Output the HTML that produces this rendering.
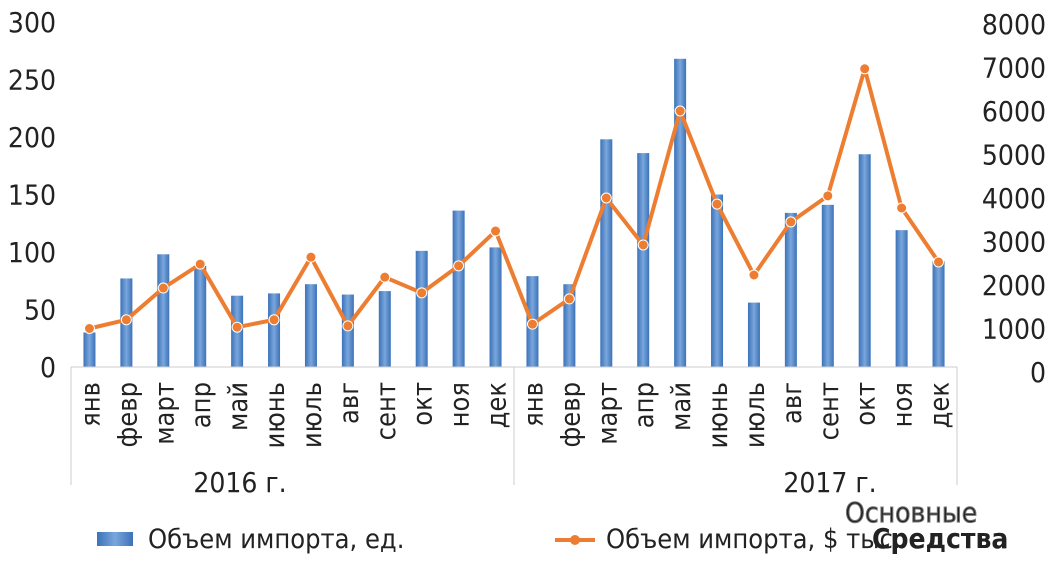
<!DOCTYPE html>
<html><head><meta charset="utf-8"><style>
body{margin:0;background:#fff;width:1050px;height:560px;overflow:hidden}
text{font-family:"DejaVu Sans Condensed","Liberation Sans",sans-serif;fill:#222}
</style></head><body>
<svg id="c" width="1050" height="560"></svg>
<script>
const months=["янв","февр","март","апр","май","июнь","июль","авг","сент","окт","ноя","дек","янв","февр","март","апр","май","июнь","июль","авг","сент","окт","ноя","дек"];
const years=["2016 г.","2017 г."];
const units=[30,77,98,88,62,64,72,63,66,101,136,104,79,72,198,186,268,150,56,134,141,185,119,92];
const value=[1000,1200,1930,2480,1030,1200,2640,1060,2180,1820,2440,3240,1100,1680,4000,2920,6000,3860,2230,3450,4050,6970,3770,2530];
const leftTicks=[0,50,100,150,200,250,300];
const rightTicks=[0,1000,2000,3000,4000,5000,6000,7000,8000];
const NS="http://www.w3.org/2000/svg",svg=document.getElementById('c');
function mk(t,a,txt){const e=document.createElementNS(NS,t);for(const k in a)e.setAttribute(k,a[k]);if(txt!==undefined)e.textContent=txt;svg.appendChild(e);return e;}
const x0=71,x1=957,n=months.length,bw=(x1-x0)/n;
const xc=i=>x0+bw*(i+0.5);
const yL=v=>367-v*(345/300);
const yR=v=>372-v*(348/8000);
const defs=mk('defs',{});
defs.innerHTML='<linearGradient id="bg" x1="0" x2="1"><stop offset="0" stop-color="#3b72b8"/><stop offset="0.5" stop-color="#7aa6dc"/><stop offset="1" stop-color="#3b72b8"/></linearGradient>';
leftTicks.forEach(v=>{const t=mk('text',{x:56,y:yL(v)+10,'text-anchor':'end','font-size':28},v);});
rightTicks.forEach(v=>{const t=mk('text',{x:1046,y:yR(v)+10,'text-anchor':'end','font-size':28},v);});
units.forEach((v,i)=>{const r=mk('rect',{x:xc(i)-6,y:yL(v),width:12,height:367-yL(v),fill:'url(#bg)'});});
const ax=mk('line',{x1:x0,x2:x1,y1:367,y2:367,stroke:'#ccc'});
[x0,x0+bw*12,x1].forEach(x=>{const l=mk('line',{x1:x,x2:x,y1:367,y2:485,stroke:'#ccc'});});
months.forEach((m,i)=>{const t=mk('text',{transform:`translate(${xc(i)+10},382) rotate(-90)`,'text-anchor':'end','font-size':27},m);});
years.forEach((y,j)=>{const t=mk('text',{x:240+590*j,y:492,'text-anchor':'middle','font-size':28},y);});
const pl=mk('polyline',{points:value.map((v,i)=>xc(i)+','+yR(v)).join(' '),fill:'none',stroke:'#ed7d31','stroke-width':4,'stroke-linejoin':'round'});

value.forEach((v,i)=>{const c=mk('circle',{cx:xc(i),cy:yR(v),r:5,fill:'#ed7d31',stroke:'#fff','stroke-width':1});});
const lg1=mk('rect',{x:97,y:532,width:36,height:14,fill:'url(#bg)'});
const lt1=mk('text',{x:148,y:548,'font-size':27},'Объем импорта, ед.');
const lg2=mk('line',{x1:555,x2:595,y1:540,y2:540,stroke:'#ed7d31','stroke-width':4});
const lc=mk('circle',{cx:575,cy:540,r:5,fill:'#ed7d31'});
const lt2=mk('text',{x:606,y:548,'font-size':27},'Объем импорта, $ тыс.');
const w1=mk('text',{x:845,y:522,'font-size':28,'font-family':'Liberation Serif',fill:'#eee',stroke:'#777','stroke-width':1},'Основные');
const w2=mk('text',{x:872,y:548,'font-size':28,'font-weight':'bold','font-family':'Liberation Serif',fill:'#777'},'Средства');
</script>
</body></html>
